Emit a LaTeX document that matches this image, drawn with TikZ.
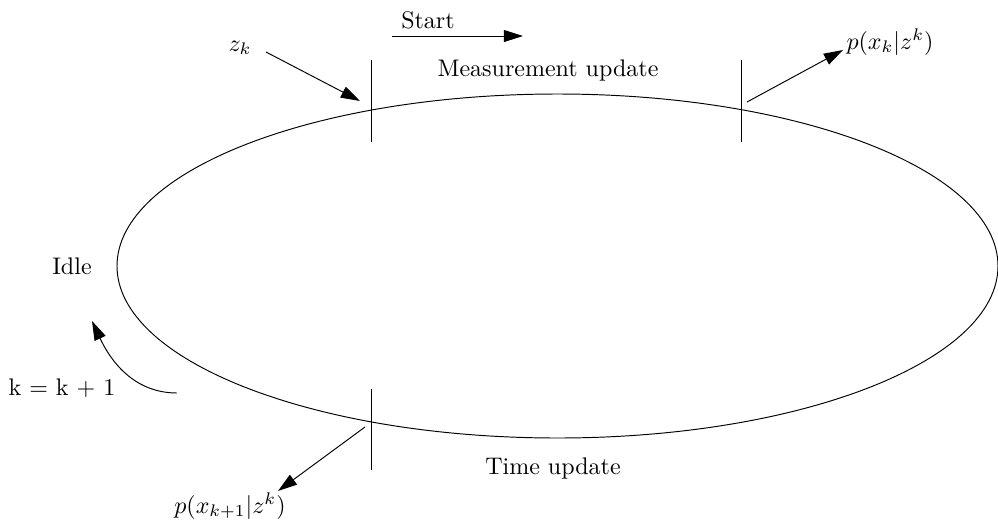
\documentclass[tikz,border=0pt]{standalone}
\usetikzlibrary{arrows.meta}
\begin{document}
\begin{tikzpicture}[x=0.4167pt,y=-0.4167pt,
  arr/.style={-{Triangle[length=8pt,width=5pt]}},
  tick/.style={draw},
  lbl/.style={inner sep=0pt}]
\useasboundingbox (0,0) rectangle (998,526);
% ellipse
\draw (557.5,266) ellipse [x radius=440.5, y radius=172];
% ticks
\coordinate (t1a) at (371,60); \coordinate (t1b) at (371,142);
\coordinate (t2a) at (741,60); \coordinate (t2b) at (741,142);
\coordinate (t3a) at (371,389); \coordinate (t3b) at (371,470);
\draw (t1a) -- (t1b);
\draw (t2a) -- (t2b);
\draw (t3a) -- (t3b);
% labels
\node[lbl] (start) at (428,20) {Start};
\node[lbl] (meas) at (548,70) {Measurement update};
\node[lbl] (time) at (553,468) {Time update};
\node[lbl] (idle) at (72,266) {Idle};
\node[lbl] (kk) at (62,388) {k = k + 1};
\node[lbl] (zk) at (240,48) {$z_k$};
\node[lbl] (pxk) at (890,42) {$p(x_k|z^k)$};
\node[lbl] (pxk1) at (230,506) {$p(x_{k+1}|z^k)$};
% arrows
\coordinate (s0) at (392,36); \coordinate (s1) at (523,36);
\draw[arr] (s0) -- (s1);
\coordinate (z0) at (266,52); \coordinate (z1) at (360,101);
\draw[arr] (z0) -- (z1);
\coordinate (p0) at (747,102); \coordinate (p1) at (843,50);
\draw[arr] (p0) -- (p1);
\coordinate (q0) at (365,427); \coordinate (q1) at (278,491);
\draw[arr] (q0) -- (q1);
\coordinate (c0) at (177,393); \coordinate (c1) at (92,321);
\draw[arr] (c0) to[out=180,in=-65] (c1);
\end{tikzpicture}
\end{document}
